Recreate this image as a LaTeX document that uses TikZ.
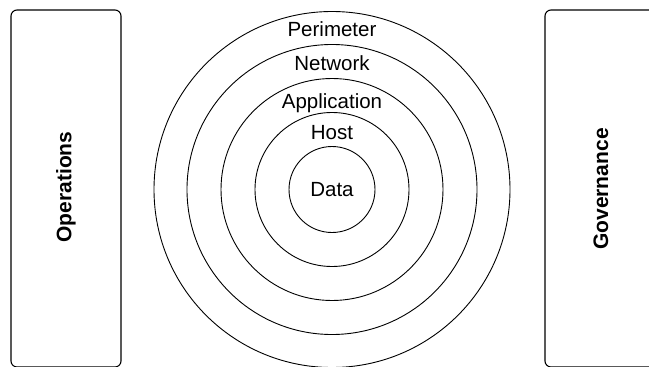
\documentclass[tikz,border=0pt]{standalone}
\usepackage{fontspec}
\setmainfont{Liberation Sans}
\begin{document}
\begin{tikzpicture}[x=1pt,y=-1pt,
  ring/.style={draw=black,line width=0.9pt},
  panel/.style={draw=black,line width=1.1pt,rounded corners=6pt},
  lbl/.style={font=\fontsize{20.5}{24}\selectfont,anchor=base,inner sep=0pt},
  side/.style={font=\bfseries\fontsize{21}{24}\selectfont,rotate=90,inner sep=0pt}]
\useasboundingbox (0,0) rectangle (649,367);
\begin{scope}
\clip (0,0) rectangle (649,367);
\draw[panel] (11,10) rectangle (121,367);
\draw[panel] (545,10) rectangle (657,367);
\end{scope}
\coordinate (c) at (332,189.5);
\draw[ring] (c) circle[radius=178];
\draw[ring] (c) circle[radius=145];
\draw[ring] (c) circle[radius=111];
\draw[ring] (c) circle[radius=77];
\draw[ring] (c) circle[radius=43];
\node[lbl] (per) at (332,36) {Perimeter};
\node[lbl] (net) at (332,70) {Network};
\node[lbl] (app) at (332,108) {Application};
\node[lbl] (host) at (332,139) {Host};
\node[lbl] (data) at (332,196.5) {Data};
\node[side] (ops) at (66,187) {Operations};
\node[side] (gov) at (601,189) {Governance};
\end{tikzpicture}
\end{document}
